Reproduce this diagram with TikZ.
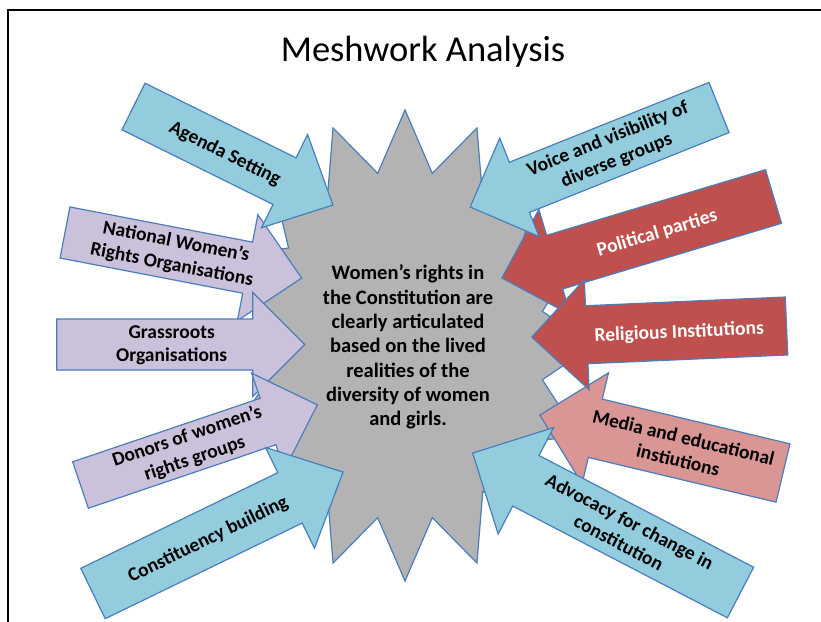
\documentclass[tikz,border=0pt]{standalone}
\usepackage{fontspec}
\setmainfont{Carlito}
\definecolor{aqua}{HTML}{93CDDD}
\definecolor{lilac}{HTML}{CCC1DA}
\definecolor{brick}{HTML}{C0504D}
\definecolor{rose}{HTML}{D99694}
\definecolor{starg}{HTML}{B3B3B3}
\definecolor{edgeblue}{HTML}{4A7EBB}
% #1 style, #2 direction sign, #3 length, #4 shaft width, #5 head width, #6 head length
\newcommand{\blockarrow}[6]{%
  \draw[#1] (0,{-#4/2}) -- ({#2*(#3-#6)},{-#4/2}) -- ({#2*(#3-#6)},{-#5/2}) -- ({#2*#3},0)
    -- ({#2*(#3-#6)},{#5/2}) -- ({#2*(#3-#6)},{#4/2}) -- (0,{#4/2}) -- cycle;}
\begin{document}
\begin{tikzpicture}[x=1pt,y=-1pt,
  shapeA/.style={draw=edgeblue, line width=1.2pt, line join=miter},
  lbl/.style={font=\bfseries\fontsize{19.5}{23.5}\selectfont, align=center, inner sep=0pt, transform shape},
  corelbl/.style={font=\bfseries\fontsize{20.5}{24.3}\selectfont, align=center, inner sep=0pt}]
\useasboundingbox (0,0) rectangle (821,621);
\fill[white] (0,0) rectangle (821,621);
\draw[line width=2pt] (8,623) -- (8,10) -- (823,10);
\node[font=\fontsize{36.5}{44}\selectfont, anchor=base, inner sep=0pt] (title) at (423,61) {Meshwork Analysis};

% central 16-point star
\draw[shapeA, fill=starg] (405,110)
  \foreach \i in {1,...,31} { -- ({405+(140+48*(1-mod(\i,2)))*sin(\i*11.25)}, {345.5-(175.5+60*(1-mod(\i,2)))*cos(\i*11.25)}) } -- cycle;

% left side
\begin{scope}[shift={(65,232.5)}, rotate=-10.9]
\blockarrow{shapeA, fill=lilac}{1}{241}{52}{108}{55}
\node[lbl] (national) at (111,0) {National Women’s\\Rights Organisations};
\end{scope}
\begin{scope}[shift={(133.5,106.5)}, rotate=-26.3]
\blockarrow{shapeA, fill=aqua}{1}{222.5}{52}{104}{54}
\node[lbl] (agenda) at (103,2) {Agenda Setting};
\end{scope}
\begin{scope}[shift={(56.7,344.5)}]
\blockarrow{shapeA, fill=lilac}{1}{248}{51}{104}{52}
\node[lbl] (grass) at (115,1) {Grassroots\\Organisations};
\end{scope}
\begin{scope}[shift={(80.5,485)}, rotate=18.7]
\blockarrow{shapeA, fill=lilac}{1}{250}{49}{102}{52}
\node[lbl] (donors) at (116.5,0) {Donors of women’s\\rights groups};
\end{scope}
\begin{scope}[shift={(93,593.5)}, rotate=25.9]
\blockarrow{shapeA, fill=aqua}{1}{278}{56}{112}{59}
\node[lbl] (constit) at (127,2) {Constituency building};
\end{scope}

% right side
\begin{scope}[shift={(773.5,196.5)}, rotate=16.7]
\blockarrow{shapeA, fill=brick}{-1}{283.5}{56}{110}{55}
\node[lbl, text=white] (political) at (-122,2) {Political parties};
\end{scope}
\begin{scope}[shift={(719,107.5)}, rotate=21.8]
\blockarrow{shapeA, fill=aqua}{-1}{268}{54}{106}{53}
\node[lbl] (voice) at (-115,0) {Voice and visibility of\\diverse groups};
\end{scope}
\begin{scope}[shift={(783,473)}, rotate=-13.4]
\blockarrow{shapeA, fill=rose}{-1}{250}{60}{114}{57}
\node[lbl] (media) at (-105,0) {Media and educational\\instiutions};
\end{scope}
\begin{scope}[shift={(740.5,592.5)}, rotate=-27.5]
\blockarrow{shapeA, fill=aqua}{-1}{302}{57}{120}{60}
\node[lbl] (advocacy) at (-131,0) {Advocacy for change in\\constitution};
\end{scope}
\begin{scope}[shift={(786.5,326)}, rotate=2.5]
\blockarrow{shapeA, fill=brick}{-1}{255}{58}{110}{55}
\node[lbl, text=white] (religious) at (-107.5,2) {Religious Institutions};
\end{scope}

\node[corelbl] (core) at (408,347) {Women’s rights in\\the Constitution are\\clearly articulated\\based on the lived\\realities of the\\diversity of women\\and girls.};
\end{tikzpicture}
\end{document}
